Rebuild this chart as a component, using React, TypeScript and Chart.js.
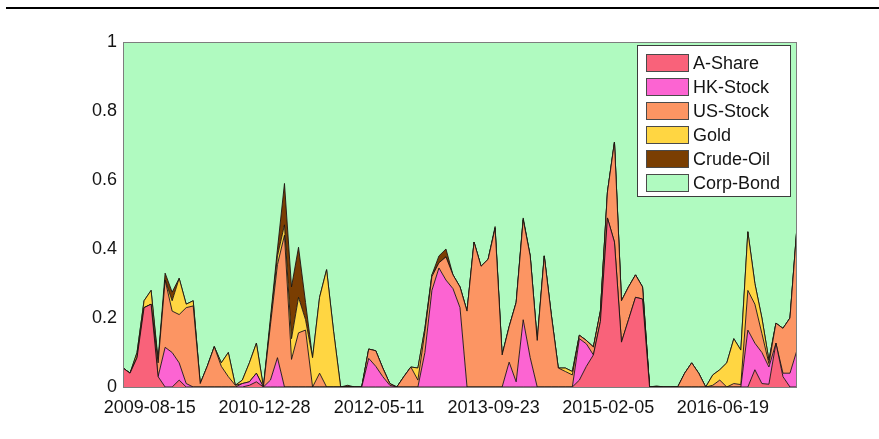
import React, { useEffect, useRef } from 'react';
import { Chart, registerables } from 'chart.js';

Chart.register(...registerables);

// Monthly portfolio weights; the first sample falls on START_DATE.
const START_DATE = '2009-04-20';
const STEP_DAYS = 30.63;

const tickDates = ['2009-08-15', '2010-12-28', '2012-05-11', '2013-09-23', '2015-02-05', '2016-06-19'];
const yTicks = [0, 0.2, 0.4, 0.6, 0.8, 1];

const seriesNames = ['A-Share', 'HK-Stock', 'US-Stock', 'Gold', 'Crude-Oil', 'Corp-Bond'];
const seriesColors = ['#F9627A', '#FC64D2', '#FC9563', '#FFD642', '#7A3E02', '#B0FAC0'];

const aShare = [
  0.055, 0.04, 0.085, 0.23, 0.24, 0.03, 0, 0, 0.02, 0,
  0, 0, 0, 0, 0, 0, 0, 0, 0.005, 0.015,
  0, 0, 0, 0, 0, 0, 0, 0, 0, 0,
  0, 0, 0, 0, 0, 0, 0, 0, 0, 0,
  0, 0, 0, 0, 0, 0, 0, 0, 0, 0,
  0, 0, 0, 0, 0, 0, 0, 0, 0, 0,
  0, 0, 0, 0, 0, 0.02, 0.06, 0.093, 0.19, 0.49,
  0.42, 0.13, 0.195, 0.26, 0.255, 0, 0, 0, 0, 0,
  0, 0, 0, 0, 0, 0, 0, 0, 0, 0,
  0.05, 0.01, 0.008, 0.127, 0.03, 0, 0,
];
const hkStock = [
  0, 0, 0, 0, 0, 0, 0.115, 0.1, 0.05, 0.01,
  0, 0, 0, 0, 0, 0, 0, 0.01, 0.01, 0.025,
  0, 0.02, 0.085, 0, 0, 0, 0, 0, 0, 0,
  0, 0, 0, 0, 0, 0.083, 0.06, 0.03, 0.005, 0,
  0, 0, 0, 0.1, 0.28, 0.345, 0.31, 0.285, 0.23, 0,
  0, 0, 0, 0, 0, 0.072, 0.015, 0.195, 0.085, 0,
  0, 0, 0, 0, 0, 0.12, 0.065, 0, 0, 0,
  0, 0, 0, 0, 0, 0, 0, 0, 0, 0,
  0, 0, 0, 0, 0, 0, 0, 0, 0, 0.165,
  0.077, 0.09, 0.05, 0, 0.01, 0.04, 0.107,
];
const usStock = [
  0, 0, 0, 0, 0, 0.04, 0.195, 0.12, 0.14, 0.22,
  0.235, 0.01, 0.06, 0.117, 0.06, 0.03, 0.005, 0, 0, 0,
  0, 0.16, 0.27, 0.44, 0.08, 0.157, 0.165, 0, 0.04, 0,
  0, 0, 0, 0, 0, 0.027, 0.045, 0.025, 0.005, 0,
  0.03, 0.058, 0.02, 0.06, 0.04, 0.015, 0.067, 0.04, 0.06, 0.22,
  0.42, 0.35, 0.37, 0.46, 0.093, 0.103, 0.23, 0.29, 0.295, 0.135,
  0.38, 0.21, 0.055, 0.045, 0.035, 0.01, 0.01, 0.023, 0.03, 0.075,
  0.29, 0.12, 0.095, 0.065, 0.035, 0, 0, 0, 0, 0,
  0.04, 0.07, 0.04, 0, 0.005, 0.02, 0, 0.01, 0.007, 0.115,
  0.113, 0.055, 0.01, 0.058, 0.13, 0.16, 0.358,
];
const gold = [
  0, 0, 0.015, 0.02, 0.04, 0, 0, 0.03, 0.105, 0.01,
  0.015, 0, 0, 0, 0.01, 0.07, 0, 0.01, 0.055, 0.087,
  0, 0.01, 0.025, 0.03, 0.06, 0.103, 0.03, 0.085, 0.22, 0.34,
  0.16, 0, 0, 0, 0, 0, 0, 0, 0, 0,
  0, 0, 0.035, 0.01, 0.005, 0, 0, 0, 0, 0,
  0, 0, 0, 0, 0, 0, 0, 0, 0, 0,
  0, 0, 0, 0.01, 0.01, 0, 0, 0, 0, 0,
  0, 0, 0, 0, 0, 0, 0, 0, 0, 0,
  0, 0, 0, 0, 0.03, 0.03, 0.07, 0.13, 0.1, 0.17,
  0.06, 0.045, 0.01, 0, 0, 0, 0,
];
const crudeOil = [
  0, 0, 0, 0, 0, 0.01, 0.02, 0.025, 0, 0,
  0, 0, 0, 0, 0, 0, 0, 0, 0, 0,
  0, 0.01, 0.02, 0.12, 0.15, 0.145, 0.05, 0, 0, 0,
  0, 0, 0.005, 0, 0, 0, 0, 0, 0, 0,
  0, 0, 0, 0, 0, 0.02, 0.023, 0, 0, 0,
  0, 0, 0, 0.005, 0, 0, 0, 0.005, 0, 0,
  0, 0, 0, 0, 0, 0, 0, 0, 0, 0,
  0, 0, 0, 0, 0, 0, 0.003, 0, 0, 0,
  0, 0, 0, 0, 0, 0, 0, 0, 0, 0,
  0, 0, 0, 0, 0, 0, 0,
];
// Corporate bonds take up whatever weight the other assets leave.
const corpBond = aShare.map((_, i) =>
  Math.max(0, 1 - (aShare[i] + hkStock[i] + usStock[i] + gold[i] + crudeOil[i]))
);

const FONT = '"Liberation Sans", Arial, Helvetica, sans-serif';
const DAY_MS = 86400000;
const toIndex = (d: string) => (Date.parse(d) - Date.parse(START_DATE)) / DAY_MS / STEP_DAYS;
const tickPositions = tickDates.map(toIndex);

const frameAndLegend = {
  id: 'frameAndLegend',
  afterDatasetsDraw(chart: any) {
    const { ctx, chartArea: ca } = chart;
    ctx.save();
    ctx.strokeStyle = '#7d7d7d';
    ctx.lineWidth = 1;
    ctx.strokeRect(ca.left + 0.5, ca.top + 0.5, ca.right - ca.left - 1, ca.bottom - ca.top);
    ctx.restore();
  },
  afterDraw(chart: any) {
    const { ctx, chartArea: ca } = chart;
    const lx = ca.right - 160;
    const ly = ca.top + 3;
    const lw = 154;
    const lh = 152;
    ctx.save();
    ctx.fillStyle = '#ffffff';
    ctx.fillRect(lx, ly, lw, lh);
    ctx.strokeStyle = '#3c3c3c';
    ctx.lineWidth = 1;
    ctx.strokeRect(lx + 0.5, ly + 0.5, lw - 1, lh - 1);
    ctx.font = `18px ${FONT}`;
    ctx.textBaseline = 'middle';
    ctx.textAlign = 'left';
    seriesNames.forEach((name, k) => {
      const cy = ly + 18 + 24 * k;
      ctx.fillStyle = seriesColors[k];
      ctx.fillRect(lx + 9, cy - 9, 43, 18);
      ctx.strokeStyle = '#4a4a4a';
      ctx.strokeRect(lx + 9.5, cy - 8.5, 42, 17);
      ctx.fillStyle = '#141414';
      ctx.fillText(name, lx + 56, cy + 1);
    });
    ctx.restore();
  },
};

export default function App() {
  const canvasRef = useRef<HTMLCanvasElement | null>(null);

  useEffect(() => {
    const canvas = canvasRef.current;
    if (!canvas) return;
    const series = [aShare, hkStock, usStock, gold, crudeOil, corpBond];
    const chart = new Chart(canvas, {
      type: 'line',
      data: {
        datasets: series.map((vals, k) => ({
          label: seriesNames[k],
          data: vals.map((v, i) => ({ x: i, y: v })),
          backgroundColor: seriesColors[k],
          borderColor: k === 5 ? 'rgba(0,0,0,0)' : 'rgba(25,20,15,0.9)',
          borderWidth: k === 5 ? 0 : 1,
          pointRadius: 0,
          tension: 0,
          fill: k === 0 ? 'origin' : '-1',
        })),
      },
      options: {
        responsive: false,
        animation: false,
        events: [],
        layout: { padding: { left: 0, right: 82, top: 42, bottom: 0 } },
        plugins: {
          legend: { display: false },
          tooltip: { enabled: false },
        },
        scales: {
          x: {
            type: 'linear',
            min: 0,
            max: aShare.length - 1,
            grid: { display: false, drawTicks: false },
            border: { display: false },
            afterBuildTicks: (axis: any) => {
              axis.ticks = tickPositions.map((v) => ({ value: v }));
            },
            afterFit: (axis: any) => {
              axis.height = 52;
            },
            ticks: {
              autoSkip: false,
              maxRotation: 0,
              padding: 10,
              color: '#141414',
              font: { family: FONT, size: 18 },
              callback: (_v: any, idx: number) => tickDates[idx],
            },
          },
          y: {
            stacked: true,
            min: 0,
            max: 1,
            grid: { display: false, drawTicks: false },
            border: { display: false },
            afterBuildTicks: (axis: any) => {
              axis.ticks = yTicks.map((v) => ({ value: v }));
            },
            afterFit: (axis: any) => {
              axis.width = 123;
            },
            ticks: {
              padding: 6,
              color: '#141414',
              font: { family: FONT, size: 18 },
              callback: (v: any) => (v === 0 || v === 1 ? String(v) : Number(v).toFixed(1)),
            },
          },
        },
      },
      plugins: [frameAndLegend],
    });
    return () => chart.destroy();
  }, []);

  return (
    <div style={{ position: 'fixed', left: 0, top: 0, width: 879, height: 439, background: '#ffffff' }}>
      <div style={{ position: 'absolute', left: 6, top: 7, width: 873, height: 2, background: '#000000' }} />
      <canvas ref={canvasRef} width={879} height={439} style={{ width: 879, height: 439, display: 'block' }} />
    </div>
  );
}
